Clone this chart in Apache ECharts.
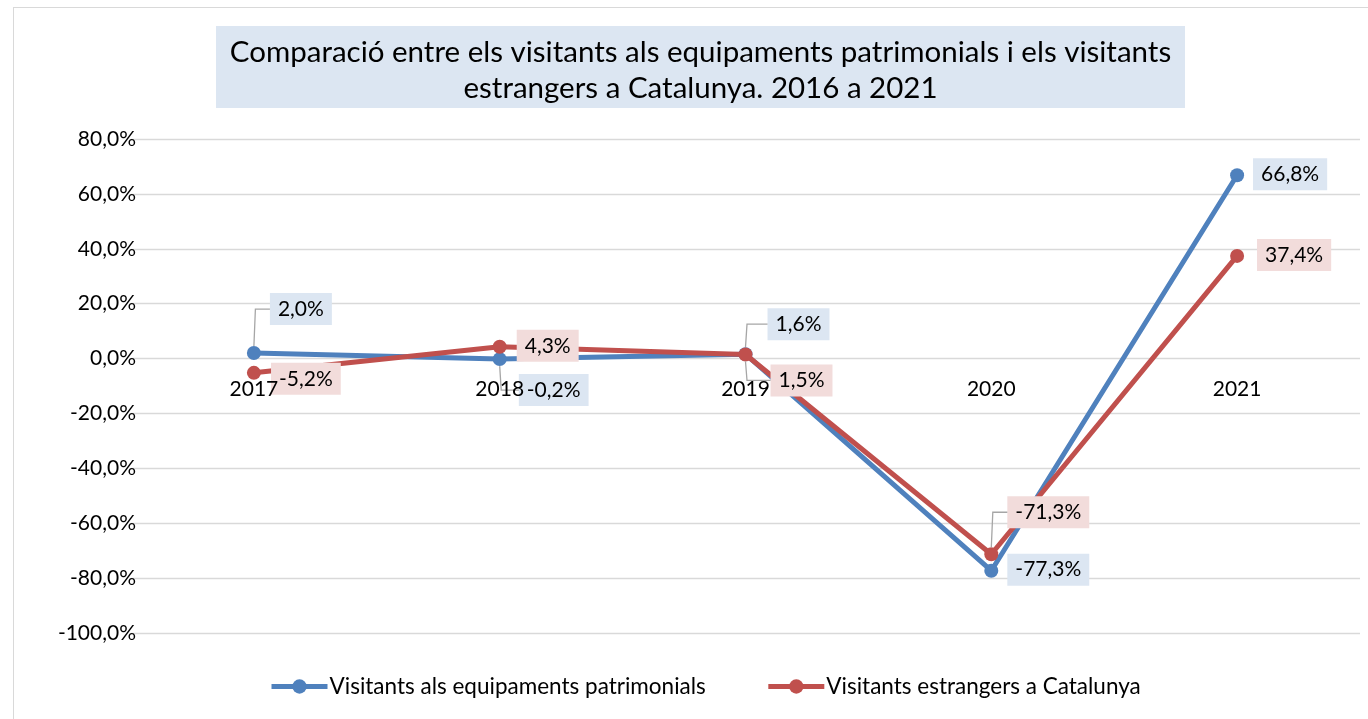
<!DOCTYPE html>
<html>
<head>
<meta charset="utf-8">
<script src="https://cdn.jsdelivr.net/npm/echarts@6/dist/echarts.min.js"></script>
<style>
  html, body { margin: 0; padding: 0; background: #fff; }
  #chart { width: 1368px; height: 719px; position: absolute; left: 0; top: 0; }
  #frame { position: absolute; left: 13px; top: 7px; width: 1400px; height: 760px; border: 1px solid #D9D9D9; pointer-events: none; }
</style>
</head>
<body>
<div id="chart"></div>
<div id="frame"></div>
<script>
// Annual change (%) compared with the previous year
const years = ['2017', '2018', '2019', '2020', '2021'];
const heritageVisitors = [2.0, -0.2, 1.6, -77.3, 66.8];
const foreignVisitors = [-5.2, 4.3, 1.5, -71.3, 37.4];
const seriesNames = ['Visitants als equipaments patrimonials', 'Visitants estrangers a Catalunya'];
const titleLines = [
  'Comparació entre els visitants als equipaments patrimonials i els visitants',
  'estrangers a Catalunya. 2016 a 2021'
];
const yMin = -100, yMax = 80, yStep = 20;

// label placement relative to its point: [dx, dy, leader line]
const heritageLabelPos = [[47, -44, true], [54, 31, true], [53, -30, true], [57, -1, false], [53, -1, false]];
const foreignLabelPos = [[52, 6, false], [48, -1, false], [56, 26, true], [57, -42, true], [57, -1, false]];

const FONT = 'Lato';
const LABEL_SIZE = 21;
const LABEL_PAD = [6, 8, 5, 8];
const SYMBOL = 14;
const LINE_W = 5;
const fmt = v => v.toFixed(1).replace('.', ',') + '%';

const W = 1368, H = 719;
const grid = { left: 131, right: 8, top: 139, bottom: 86 };
const plotHeight = H - grid.top - grid.bottom;
// category labels sit just under the 0 % line
const zeroOffset = -plotHeight * (0 - yMin) / (yMax - yMin);

// text width of a value label, used to find the left edge of its box
const measureCtx = document.createElement('canvas').getContext('2d');
measureCtx.font = LABEL_SIZE + 'px ' + FONT;
const labelBoxWidth = v => measureCtx.measureText(fmt(v)).width + LABEL_PAD[1] + LABEL_PAD[3];

function buildData(values, bg) {
  return values.map(v => ({ value: v, label: { backgroundColor: bg } }));
}

// place each label beside its point
function makeLayout(pos) {
  return function (p) {
    const [dx, dy] = pos[p.dataIndex];
    const cx = p.rect.x + p.rect.width / 2;
    const cy = p.rect.y + p.rect.height / 2;
    return { x: cx + dx, y: cy + dy, align: 'center', verticalAlign: 'middle' };
  };
}

// leader lines: from the point straight up/down, then across to the label box
function leaderSeries(name, values, pos) {
  return {
    name: name,
    type: 'custom',
    silent: true,
    z: 4,
    data: values.map((v, i) => [i, v]),
    renderItem: function (params, api) {
      const i = params.dataIndex;
      const [dx, dy, leader] = pos[i];
      if (!leader) return null;
      const v = api.value(1);
      const [cx, cy] = api.coord([api.value(0), v]);
      const ly = cy + dy;
      const left = cx + dx - labelBoxWidth(v) / 2;
      const sy = ly < cy ? cy - SYMBOL / 2 : cy + SYMBOL / 2;
      return {
        type: 'polyline',
        shape: { points: [[cx, sy], [cx + 1.5, ly], [left, ly]] },
        style: { stroke: '#A6A6A6', lineWidth: 1.3, fill: null }
      };
    }
  };
}

const chart = echarts.init(document.getElementById('chart'), null, { renderer: 'canvas' });
const labelBase = {
  show: true,
  position: 'inside',
  formatter: p => fmt(p.value),
  fontFamily: FONT,
  fontSize: LABEL_SIZE,
  color: '#000',
  padding: LABEL_PAD
};
chart.setOption({
  animation: false,
  textStyle: { fontFamily: FONT },
  title: {
    text: titleLines.map(s => '{t|' + s + '}').join('\n'),
    left: 216,
    top: 23,
    backgroundColor: '#DCE6F2',
    padding: [11, 10, 5, 10],
    textStyle: {
      fontWeight: 'normal',
      rich: {
        t: {
          fontFamily: FONT,
          fontSize: 29.5,
          fontWeight: 'normal',
          color: '#000',
          lineHeight: 36,
          width: 949,
          align: 'center'
        }
      }
    }
  },
  grid: { left: grid.left, right: grid.right, top: grid.top, bottom: grid.bottom, containLabel: false },
  legend: {
    top: 670,
    left: 264,
    itemWidth: 56,
    itemHeight: 18,
    itemGap: 60,
    lineStyle: { width: LINE_W },
    textStyle: { fontFamily: FONT, fontSize: 22.5, color: '#000', padding: [0, 0, 0, -3] },
    data: seriesNames
  },
  xAxis: {
    type: 'category',
    data: years,
    boundaryGap: true,
    offset: zeroOffset,
    z: 10,
    axisLine: { show: false, onZero: false },
    axisTick: { show: false },
    axisLabel: { fontFamily: FONT, fontSize: 21, color: '#000', margin: 20 }
  },
  yAxis: {
    type: 'value',
    min: yMin,
    max: yMax,
    interval: yStep,
    axisLine: { show: false },
    axisTick: { show: false },
    splitLine: { lineStyle: { color: '#D9D9D9', width: 1.3 } },
    axisLabel: { fontFamily: FONT, fontSize: 21, color: '#000', margin: -5, align: 'right', formatter: v => fmt(v) }
  },
  series: [
    {
      name: seriesNames[0],
      type: 'line',
      data: buildData(heritageVisitors, '#DCE6F2'),
      symbol: 'circle',
      symbolSize: SYMBOL,
      itemStyle: { color: '#4F81BD' },
      lineStyle: { color: '#4F81BD', width: LINE_W },
      label: labelBase,
      labelLayout: makeLayout(heritageLabelPos),
      z: 2
    },
    {
      name: seriesNames[1],
      type: 'line',
      data: buildData(foreignVisitors, '#F2DCDB'),
      symbol: 'circle',
      symbolSize: SYMBOL,
      itemStyle: { color: '#C0504D' },
      lineStyle: { color: '#C0504D', width: LINE_W },
      label: labelBase,
      labelLayout: makeLayout(foreignLabelPos),
      z: 3
    },
    leaderSeries('guides-heritage', heritageVisitors, heritageLabelPos),
    leaderSeries('guides-foreign', foreignVisitors, foreignLabelPos)
  ]
});
</script>
</body>
</html>
